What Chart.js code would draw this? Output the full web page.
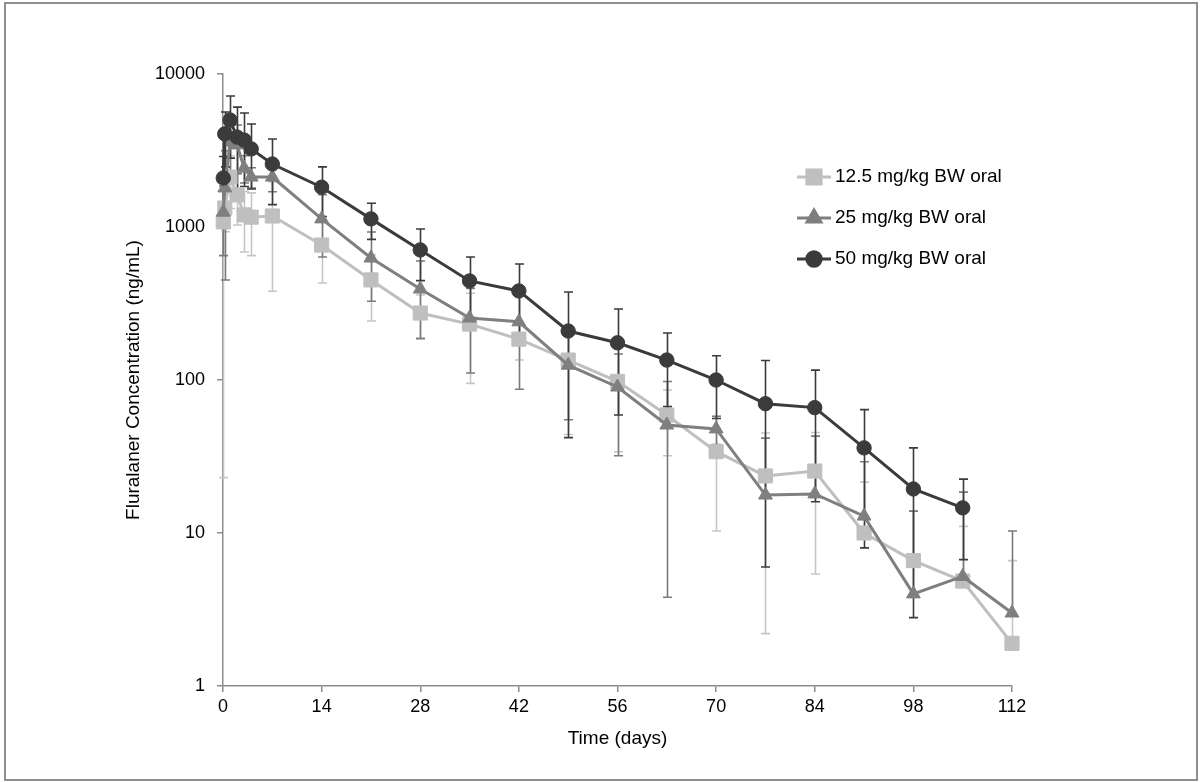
<!DOCTYPE html>
<html><head><meta charset="utf-8">
<script src="https://cdn.jsdelivr.net/npm/chart.js@4.4.1/dist/chart.umd.min.js"></script>
<style>
html,body{margin:0;padding:0;background:#fff;}
#wrap{position:relative;width:1200px;height:782px;overflow:hidden;}
#frame{position:absolute;left:4px;top:2px;width:1190px;height:775px;border:2px solid #8e8e8e;pointer-events:none;}
canvas{position:absolute;left:0;top:0;}
</style></head><body>
<div id="wrap"><canvas id="c" width="1200" height="782"></canvas><div id="frame"></div></div>
<script>
// ---- data ----
const times = [0.04, 0.25, 1, 2, 3, 4, 7, 14, 21, 28, 35, 42, 49, 56, 63, 70, 77, 84, 91, 98, 105, 112];
const seriesNames = ['12.5 mg/kg BW oral', '25 mg/kg BW oral', '50 mg/kg BW oral'];
const conc12 = [1080, 1330, 2120, 1620, 1200, 1160, 1180, 762, 451, 274, 232, 185, 135, 98, 59, 34, 23.6, 25.4, 10, 6.6, 4.85, 1.9];
const sd12   = [1057, 400, 800, 590, 513, 510, 800, 331, 208, 85, 137, 50, 91, 64, 27, 23.7, 21.4, 20, 11.5, 7.3, 6.2, 4.7];
const conc25 = [1250, 1800, 3590, 3440, 2430, 2120, 2120, 1130, 627, 393, 254, 240, 125, 90, 50.8, 47.9, 17.7, 18, 12.9, 4.0, 5.2, 3.0];
const sd25   = [600, 1350, 1500, 1200, 490, 320, 420, 494, 300, 207, 143, 153, 70, 58, 47, 10, 24, 25, 16.3, 9.9, 13.3, 7.3];
const conc50 = [2090, 4060, 5000, 3870, 3700, 3240, 2580, 1820, 1130, 708, 444, 382, 209, 175, 135, 100, 70, 66, 36, 19.4, 14.6, null];
const sd50   = [800, 1590, 2180, 2200, 1860, 1470, 1180, 650, 300, 262, 193, 191, 167, 116, 68, 44, 64, 50, 28, 16.6, 7.9, null];
const xTicks = [0, 14, 28, 42, 56, 70, 84, 98, 112];
const yTicks = [1, 10, 100, 1000, 10000];

const FONT = "'Liberation Sans', Arial, Helvetica, sans-serif";
const colors = ['#bfbfbf', '#7f7f7f', '#3b3b3b'];
const errColors = ['#c6c6c6', '#7a7a7a', '#3b3b3b'];
const styles = ['rect', 'triangle', 'circle'];
const radii = [10, 8, 7.2];
const concs = [conc12, conc25, conc50];
const sds = [sd12, sd25, sd50];

const toPts = arr => times.map((t, i) => ({x: t, y: arr[i]})).filter(p => p.y != null);

const datasets = concs.map((c, k) => ({
  label: seriesNames[k],
  data: toPts(c),
  borderColor: colors[k],
  backgroundColor: colors[k],
  borderWidth: 3,
  pointStyle: styles[k],
  pointRadius: radii[k],
  pointBorderWidth: 1,
  pointBorderColor: colors[k],
  pointBackgroundColor: colors[k],
  tension: 0,
  order: 3 - k,
  clip: false
}));

const errorBars = {
  id: 'errorBars',
  beforeDatasetsDraw(chart) {
    const {ctx, chartArea: a, scales: {x, y}} = chart;
    ctx.save();
    ctx.beginPath();
    ctx.rect(a.left - 10, a.top - 2, a.width + 20, a.height + 2);
    ctx.clip();
    concs.forEach((c, k) => {
      ctx.strokeStyle = errColors[k];
      ctx.lineWidth = 1.6;
      c.forEach((v, i) => {
        const s = sds[k][i];
        if (v == null || s == null) return;
        const px = Math.round(x.getPixelForValue(times[i])) + 0.5;
        const pv = y.getPixelForValue(v);
        const hi = y.getPixelForValue(v + s);
        const hasLo = v - s > 0;
        const lo = hasLo ? y.getPixelForValue(v - s) : pv;
        ctx.beginPath();
        ctx.moveTo(px, hi); ctx.lineTo(px, lo);
        ctx.moveTo(px - 4.5, hi); ctx.lineTo(px + 4.5, hi);
        if (hasLo) { ctx.moveTo(px - 4.5, lo); ctx.lineTo(px + 4.5, lo); }
        ctx.stroke();
      });
    });
    ctx.restore();
  }
};

const legendBox = {
  id: 'legendBox',
  afterDraw(chart) {
    const ctx = chart.ctx;
    const ys = [177, 218, 259];
    ctx.save();
    seriesNames.forEach((name, k) => {
      const yy = ys[k];
      ctx.strokeStyle = colors[k];
      ctx.lineWidth = 3;
      ctx.beginPath(); ctx.moveTo(797, yy); ctx.lineTo(831, yy); ctx.stroke();
      ctx.fillStyle = colors[k];
      Chart.helpers.drawPoint(ctx, {pointStyle: styles[k], radius: radii[k], rotation: 0, borderWidth: 1}, 814, yy);
      ctx.fillStyle = '#000';
      ctx.font = '19px ' + FONT;
      ctx.textBaseline = 'middle';
      ctx.textAlign = 'left';
      ctx.fillText(name, 835, yy);
    });
    ctx.restore();
  }
};

const axisCommon = {
  grid: {display: true, drawOnChartArea: false, drawTicks: true, tickLength: 6, color: '#8c8c8c', lineWidth: 1.5},
  border: {display: true, color: '#8c8c8c', width: 1.5}
};

new Chart(document.getElementById('c'), {
  type: 'line',
  data: {datasets},
  plugins: [errorBars, legendBox],
  options: {
    responsive: false,
    devicePixelRatio: 1,
    animation: false,
    layout: {padding: {left: 122, top: 74, right: 188, bottom: 32}},
    plugins: {legend: {display: false}, tooltip: {enabled: false}},
    scales: {
      x: {
        type: 'linear', min: 0, max: 112,
        afterBuildTicks: s => { s.ticks = xTicks.map(v => ({value: v})); },
        afterFit: s => { s.height = 64; },
        ticks: {color: '#000', font: {size: 18, family: FONT}, padding: 4, autoSkip: false, maxRotation: 0},
        title: {display: true, text: 'Time (days)', color: '#000', font: {size: 19, family: FONT}, padding: {top: 0, bottom: 0}},
        ...axisCommon
      },
      y: {
        type: 'logarithmic', min: 1, max: 10000,
        afterBuildTicks: s => { s.ticks = yTicks.map(v => ({value: v})); },
        afterFit: s => { s.width = 101; },
        ticks: {color: '#000', font: {size: 18, family: FONT}, padding: 12, autoSkip: false, callback: v => String(v)},
        title: {display: true, text: 'Fluralaner Concentration (ng/mL)', color: '#000', font: {size: 19, family: FONT}, padding: {top: 0, bottom: 0}},
        ...axisCommon
      }
    }
  }
});
</script>
</body></html>
